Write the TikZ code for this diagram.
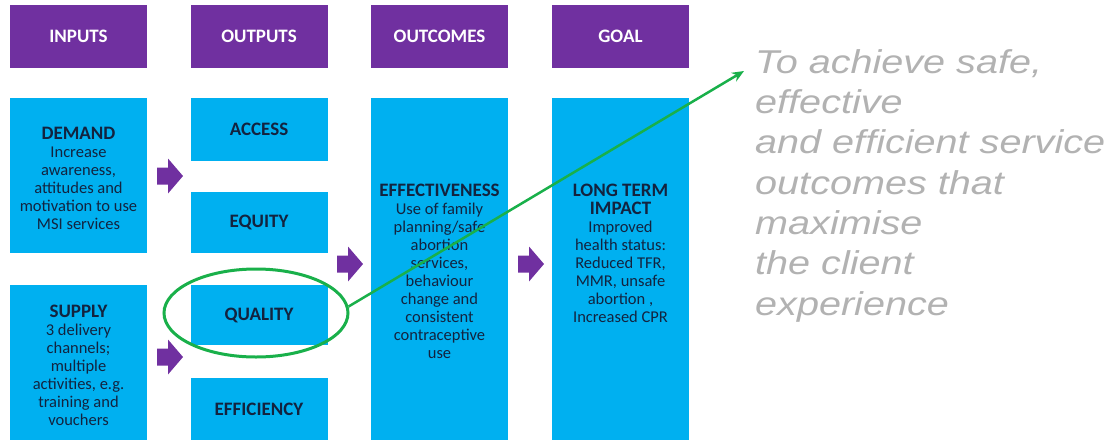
\documentclass[tikz,border=0pt]{standalone}
\usepackage{fontspec}
\setmainfont{Carlito}
\newfontfamily\goalfont{Liberation Sans}
\usetikzlibrary{shapes.geometric,arrows.meta}
\definecolor{skyb}{HTML}{00B0F0}
\definecolor{purp}{HTML}{7030A0}
\definecolor{grn}{HTML}{19B04A}
\definecolor{ink}{HTML}{13233F}
\definecolor{goalgray}{HTML}{B2B2B2}
\begin{document}
\begin{tikzpicture}[x=1pt,y=-1pt,
  head/.style={fill=purp, text=white, inner sep=0pt,
    font=\fontsize{19}{19}\selectfont\bfseries,
    minimum width=137pt, minimum height=63pt},
  box/.style={fill=skyb, inner sep=0pt, minimum width=137pt},
  boxlabel/.style={text=ink, font=\fontsize{19}{19}\selectfont\bfseries},
  boxtext/.style={text=ink, align=center, inner sep=0pt, anchor=north,
    font=\fontsize{16.5}{18}\selectfont},
  blockarrow/.pic={\fill[purp] (0,-8.5) -- (11,-8.5) -- (11,-17.5) -- (26,0)
    -- (11,17.5) -- (11,8.5) -- (0,8.5) -- cycle;},
  oval/.style={ellipse, draw=grn, line width=3pt, minimum width=184pt,
    minimum height=88pt, inner sep=0pt},
  pointer/.style={grn, line width=2.5pt, -{Stealth[length=12pt,width=10pt]}}
]
\useasboundingbox (0,0) rectangle (1114,440);

% column headers
\node[head] (hin)   at (78.5,36.5)  {INPUTS};
\node[head] (hout)  at (259,36.5)   {OUTPUTS};
\node[head] (hoc)   at (439.5,36.5) {OUTCOMES};
\node[head] (hgoal) at (620.5,36.5) {GOAL};

% inputs
\node[box, minimum height=155pt] (demand) at (78.5,175.5) {};
\node[box, minimum height=155pt] (supply) at (78.5,362.5) {};
\node[boxtext] (demandtxt) at (78.5,127) {{\fontsize{19}{18}\selectfont\bfseries DEMAND}\\Increase\\awareness,\\attitudes and\\motivation to use\\MSI services};
\node[boxtext] (supplytxt) at (78.5,305) {{\fontsize{19}{18}\selectfont\bfseries SUPPLY}\\3 delivery\\channels;\\multiple\\activities, e.g.\\training and\\vouchers};

% outputs
\node[box, minimum height=63pt, boxlabel] (access)     at (259,129.5) {ACCESS};
\node[box, minimum height=61pt, boxlabel] (equity)     at (259,222.5) {EQUITY};
\node[box, minimum height=60pt, boxlabel] (quality)    at (259,315)   {QUALITY};
\node[box, minimum height=62pt, boxlabel] (efficiency) at (259,409)   {EFFICIENCY};

% outcomes and goal
\node[box, minimum height=342pt] (effect) at (439.5,269) {};
\node[box, minimum height=342pt] (impact) at (620.5,269) {};
\node[boxtext] (effecttxt) at (439.5,184) {{\fontsize{19}{18}\selectfont\bfseries EFFECTIVENESS}\\Use of family\\planning/safe\\abortion\\services,\\behaviour\\change and\\consistent\\contraceptive\\use};
\node[boxtext] (impacttxt) at (620.5,184) {{\fontsize{19}{18}\selectfont\bfseries LONG TERM}\\{\fontsize{19}{18}\selectfont\bfseries IMPACT}\\Improved\\health status:\\Reduced TFR,\\MMR, unsafe\\abortion ,\\Increased CPR};

% block arrows between the columns
\pic at (157,176) {blockarrow};
\pic at (157,357) {blockarrow};
\pic at (337,264) {blockarrow};
\pic at (518,264) {blockarrow};

% goal statement
\node[anchor=north west, inner sep=0pt, text=goalgray] (goaltxt) at (755,44.8)
  {\goalfont\itshape\fontsize{33}{40.3}\selectfont\scalebox{1.2}[1]{%
   \begin{tabular}{@{}l@{}}To achieve safe,\\effective\\and efficient service\\outcomes that\\maximise\\the client\\experience\end{tabular}}};

% highlight of quality and pointer to the goal statement
\node[oval] (ql) at (256,313) {};
\coordinate (tip) at (744,71);
\draw[pointer] (ql.4) -- (tip);
\end{tikzpicture}
\end{document}
